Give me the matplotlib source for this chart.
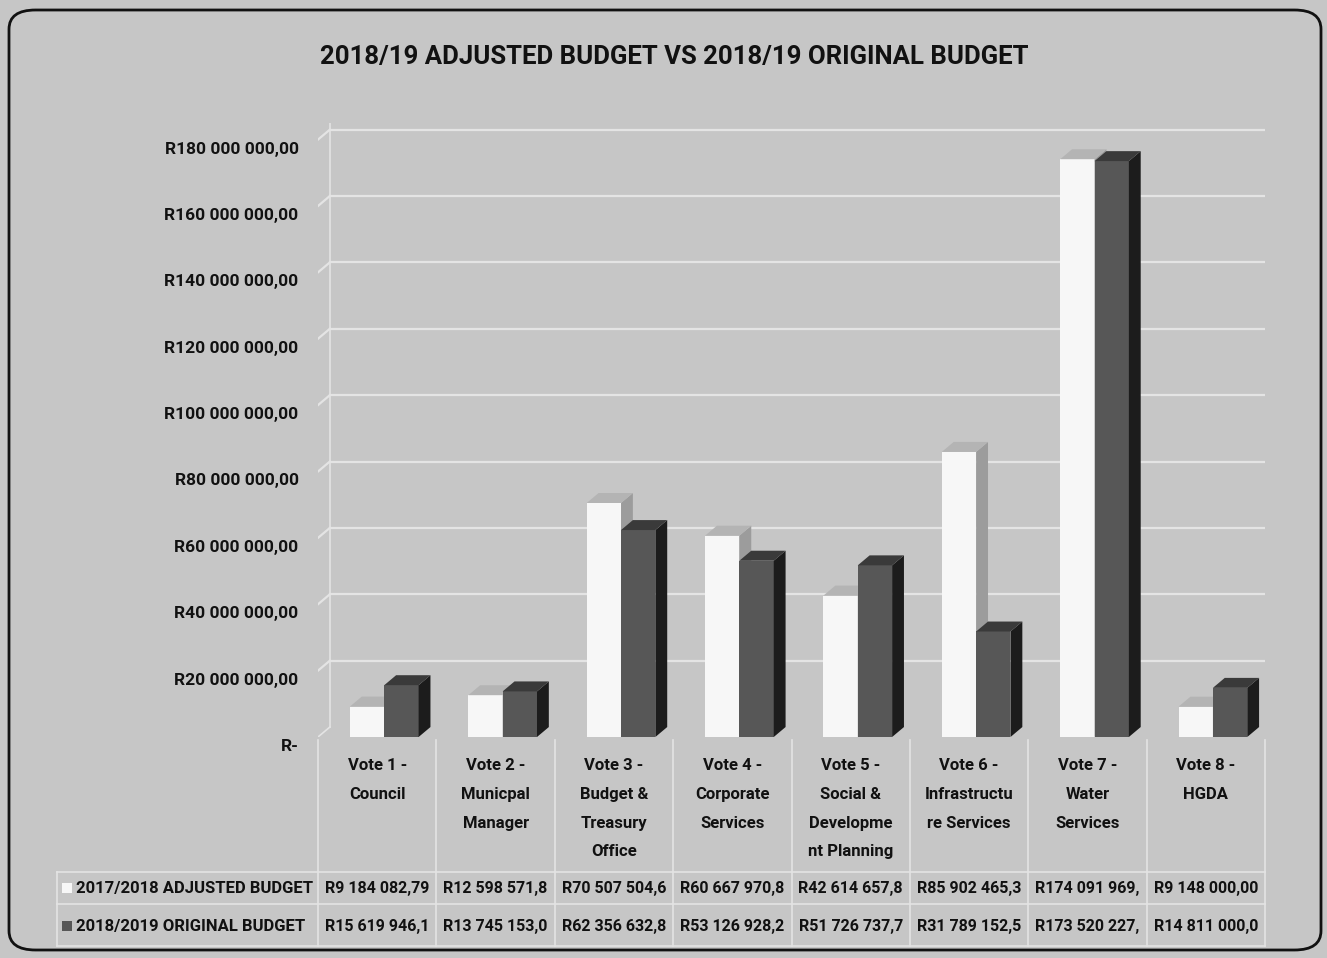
import numpy as np
import matplotlib
matplotlib.use("Agg")
import matplotlib.pyplot as plt
from matplotlib.patches import Polygon, FancyBboxPatch, Rectangle
from matplotlib.transforms import blended_transform_factory, ScaledTranslation

categories = [
    "Vote 1 -\nCouncil",
    "Vote 2 -\nMunicpal\nManager",
    "Vote 3 -\nBudget &\nTreasury\nOffice",
    "Vote 4 -\nCorporate\nServices",
    "Vote 5 -\nSocial &\nDevelopme\nnt Planning",
    "Vote 6 -\nInfrastructu\nre Services",
    "Vote 7 -\nWater\nServices",
    "Vote 8 -\nHGDA",
]
adjusted_1718 = [9184082.79, 12598571.80, 70507504.60, 60667970.80,
                 42614657.80, 85902465.30, 174091969.00, 9148000.00]
original_1819 = [15619946.10, 13745153.00, 62356632.80, 53126928.20,
                 51726737.70, 31789152.50, 173520227.00, 14811000.00]
series_names = ["2017/2018 ADJUSTED BUDGET", "2018/2019 ORIGINAL BUDGET"]
y_ticks = [0, 20e6, 40e6, 60e6, 80e6, 100e6, 120e6, 140e6, 160e6, 180e6]
title = "2018/19 ADJUSTED BUDGET VS 2018/19 ORIGINAL BUDGET"

FONT = ["Roboto", "DejaVu Sans"]
plt.rcParams["font.family"] = FONT
plt.rcParams["font.weight"] = "bold"

BG = "#c6c6c6"
GRID = "#e4e4e4"
LIGHT = ("#f7f7f7", "#9c9c9c", "#b4b4b4")   # front, side, top
DARK = ("#575757", "#1c1c1c", "#3a3a3a")
INK = "#111111"

W, H = 1327, 958


def rand(v):
    s = f"{v:,.2f}".replace(",", " ").replace(".", ",")
    return "R" + s


def fy(p):
    # pixel row from the top -> figure fraction
    return 1 - p / H


fig = plt.figure(figsize=(W / 100, H / 100), dpi=100)
fig.patch.set_facecolor(BG)

# rounded outer frame
frame = FancyBboxPatch((9 / W, fy(950)), 1312 / W, 940 / H,
                       boxstyle="round,pad=0,rounding_size=0.02",
                       transform=fig.transFigure, fill=False,
                       edgecolor=INK, linewidth=2.0)
fig.patches.append(frame)

fig.text(674 / W, fy(57), title, ha="center", va="center",
         fontsize=18.5, fontweight="bold", color=INK)

ax = fig.add_axes([318 / W, fy(737), (1265 - 318) / W, (737 - 123) / H])
ax.set_xlim(-0.5, 7.5)
ax.set_ylim(0, 185e6)
ax.patch.set_alpha(0)
for s in ax.spines.values():
    s.set_visible(False)
ax.set_xticks([])

# depth of the pseudo-3D bars
dx, dy = 0.1, 3.0e6
x = np.arange(len(categories))
bw = 0.29

# back-wall gridlines plus the short slanted piece on the side wall
for v in y_ticks[1:]:
    ax.plot([-0.5 + dx, 7.5], [v + dy, v + dy], color=GRID, lw=1.6, zorder=0)
    ax.plot([-0.5, -0.5 + dx], [v, v + dy], color=GRID, lw=1.6, zorder=0)
ax.plot([-0.5, -0.5 + dx], [0, dy], color=GRID, lw=1.2, zorder=0)
ax.plot([-0.5 + dx, -0.5 + dx], [dy, 185e6], color=GRID, lw=1.2, zorder=0)


def bar3d(xc, vals, colors, z):
    front, side, top = colors
    ax.bar(xc, vals, width=bw, color=front, zorder=z, linewidth=0)
    for xi, h in zip(xc, vals):
        xl, xr = xi - bw / 2, xi + bw / 2
        ax.add_patch(Polygon([(xr, 0), (xr + dx, dy), (xr + dx, h + dy), (xr, h)],
                             closed=True, facecolor=side, lw=0, zorder=z))
        ax.add_patch(Polygon([(xl, h), (xl + dx, h + dy), (xr + dx, h + dy), (xr, h)],
                             closed=True, facecolor=top, lw=0, zorder=z))


bar3d(x - 0.085, adjusted_1718, LIGHT, 2)
bar3d(x + 0.205, original_1819, DARK, 3)

ax.set_yticks(y_ticks)
ax.set_yticklabels(["R-" if v == 0 else rand(v) for v in y_ticks])
ax.tick_params(axis="y", length=0, pad=14, labelsize=12.5, labelcolor=INK)
for lab in ax.get_yticklabels():
    lab.set_transform(lab.get_transform() + ScaledTranslation(0, -8 / 100, fig.dpi_scale_trans))

# data table under the plot
tr = blended_transform_factory(ax.transData, fig.transFigure)
for b in np.arange(-0.5, 8.0, 1.0):
    ax.plot([b, b], [fy(740), fy(946)], color=GRID, lw=1.2, transform=tr,
            clip_on=False)
for p in (872, 904, 946):
    fig.add_artist(plt.Line2D([57 / W, 1265 / W], [fy(p), fy(p)],
                              color=GRID, lw=1.2, transform=fig.transFigure))
fig.add_artist(plt.Line2D([57 / W, 57 / W], [fy(872), fy(946)],
                          color=GRID, lw=1.2, transform=fig.transFigure))

for xi, lab in zip(x, categories):
    ax.text(xi, fy(758), lab, transform=tr, ha="center", va="top",
            fontsize=12, linespacing=2.15, color=INK, clip_on=False)

rows = [(adjusted_1718, 888, LIGHT[0]), (original_1819, 926, DARK[0])]
for (vals, py, sw), name in zip(rows, series_names):
    fig.patches.append(Rectangle((62 / W, fy(py + 5)), 10 / W, 10 / H,
                                 transform=fig.transFigure, facecolor=sw,
                                 edgecolor="none"))
    fig.text(76 / W, fy(py), name, ha="left", va="center", fontsize=12,
             color=INK)
    for xi, v in zip(x, vals):
        ax.text(xi, fy(py), rand(v)[:13], transform=tr, ha="center",
                va="center", fontsize=11.5, color=INK, clip_on=False)

fig.savefig("out.png", dpi=100, facecolor=BG)
